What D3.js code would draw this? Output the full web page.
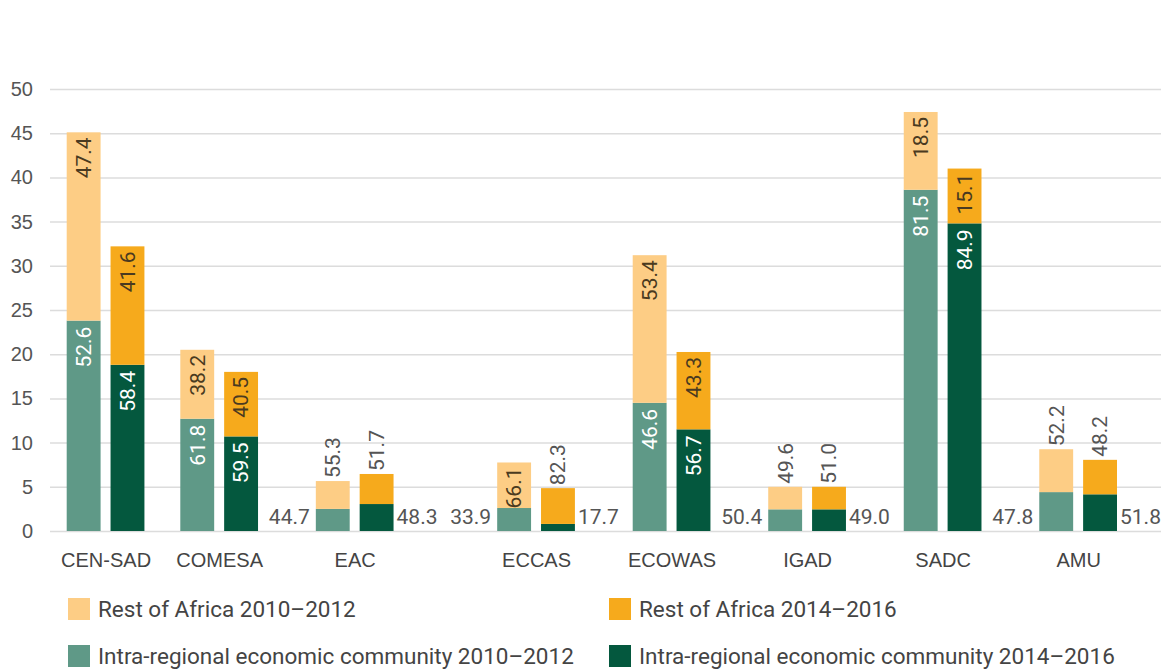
<!DOCTYPE html>
<html>
<head>
<meta charset="utf-8">
<script src="https://cdn.jsdelivr.net/npm/d3@7"></script>
<style>
  body { margin: 0; background: #fff; }
  svg { display: block; font-family: Roboto, "Liberation Sans", sans-serif; }
</style>
</head>
<body>
<script>
// regional communities and the two periods
const groups = ["CEN-SAD", "COMESA", "EAC", "ECCAS", "ECOWAS", "IGAD", "SADC", "AMU"];
const periods = ["2010–2012", "2014–2016"];

// bar heights (bottom = intra-regional, top = rest of Africa)
const intra2010 = [23.8, 12.7, 2.5, 2.6, 14.5, 2.45, 38.6, 4.4];
const rest2010  = [21.3, 7.8, 3.15, 5.15, 16.7, 2.55, 8.8, 4.85];
const intra2014 = [18.8, 10.7, 3.05, 0.8, 11.5, 2.45, 34.8, 4.15];
const rest2014  = [13.4, 7.3, 3.4, 4.05, 8.75, 2.55, 6.2, 3.9];

// share labels printed on the bars (%)
const intraShare2010 = ["52.6", "61.8", "44.7", "33.9", "46.6", "50.4", "81.5", "47.8"];
const restShare2010  = ["47.4", "38.2", "55.3", "66.1", "53.4", "49.6", "18.5", "52.2"];
const intraShare2014 = ["58.4", "59.5", "48.3", "17.7", "56.7", "49.0", "84.9", "51.8"];
const restShare2014  = ["41.6", "40.5", "51.7", "82.3", "43.3", "51.0", "15.1", "48.2"];

const yTicks = [0, 5, 10, 15, 20, 25, 30, 35, 40, 45, 50];

const legendLabels = [
  "Rest of Africa 2010–2012", "Rest of Africa 2014–2016",
  "Intra-regional economic community 2010–2012", "Intra-regional economic community 2014–2016"
];

const colors = {
  rest2010: "#fdcd85",
  rest2014: "#f6aa1c",
  intra2010: "#5f9987",
  intra2014: "#04583e"
};

const width = 1161, height = 669;
const svg = d3.select("body").append("svg").attr("width", width).attr("height", height);

const y = d3.scaleLinear().domain([0, 50]).range([531, 89]);

// gridlines + y labels
const yAxis = d3.axisLeft(y).tickValues(yTicks).tickSize(-(width - 50)).tickPadding(17);
const gy = svg.append("g").attr("transform", "translate(50,0)").call(yAxis);
gy.select(".domain").remove();
gy.selectAll("line").attr("stroke", "#dcdcdc").attr("stroke-width", 1.5);
gy.selectAll("text").attr("fill", "#555").style("font-size", "20px");

// per-bar records
const bars = [];
groups.forEach((g, i) => {
  bars.push({ group: g, period: periods[0], intra: intra2010[i], rest: rest2010[i],
    intraLbl: intraShare2010[i], restLbl: restShare2010[i], ci: colors.intra2010, cr: colors.rest2010, side: -1 });
  bars.push({ group: g, period: periods[1], intra: intra2014[i], rest: rest2014[i],
    intraLbl: intraShare2014[i], restLbl: restShare2014[i], ci: colors.intra2014, cr: colors.rest2014, side: 1 });
});

const minInside = 44; // px needed to fit a rotated label inside a segment
const segPx = v => y(0) - y(v);

// group layout: extra room where intra labels sit beside the bars
const groupW = 78, baseGap = 36, labelSpace = 46;
const offsets = [];
let pos = 0;
groups.forEach((g, i) => {
  if (i > 0) {
    let n = 0;
    if (segPx(intra2014[i - 1]) < minInside) n++;
    if (segPx(intra2010[i]) < minInside) n++;
    pos += n === 0 ? baseGap : n * labelSpace + 12;
  }
  offsets.push(pos);
  pos += groupW;
});
const x = d3.scaleLinear().domain([0, pos]).range([66.7, 1117]);
const inner = d3.scaleBand().domain(periods).range([0, x(groupW) - x(0)]).paddingInner(10 / 44);
const gi = g => groups.indexOf(g);
const barX = d => x(offsets[gi(d.group)]) + inner(d.period);
const bw = inner.bandwidth();

const bg = svg.append("g");
// intra segments
bg.selectAll("rect.intra").data(bars).join("rect")
  .attr("class", "intra")
  .attr("x", barX).attr("width", bw)
  .attr("y", d => y(d.intra)).attr("height", d => y(0) - y(d.intra))
  .attr("fill", d => d.ci);
// rest segments
bg.selectAll("rect.rest").data(bars).join("rect")
  .attr("class", "rest")
  .attr("x", barX).attr("width", bw)
  .attr("y", d => y(d.intra + d.rest)).attr("height", d => y(d.intra) - y(d.intra + d.rest))
  .attr("fill", d => d.cr);

// rest labels: inside near top, otherwise above the bar
bg.selectAll("text.rl").data(bars).join("text")
  .attr("class", "rl")
  .attr("transform", d => {
    const inside = segPx(d.rest) >= minInside;
    const ty = inside ? y(d.intra + d.rest) + 5 : y(d.intra + d.rest) - 3;
    return `translate(${barX(d) + bw / 2},${ty}) rotate(-90)`;
  })
  .attr("text-anchor", d => segPx(d.rest) >= minInside ? "end" : "start")
  .attr("dy", "0.35em")
  .attr("fill", d => segPx(d.rest) >= minInside ? "#4a3a20" : "#555")
  .style("font-size", "21px")
  .text(d => d.restLbl);

// intra labels: inside near top, otherwise beside the bar
bg.selectAll("text.il").data(bars).join("text")
  .attr("class", "il")
  .each(function (d) {
    const t = d3.select(this);
    if (segPx(d.intra) >= minInside) {
      t.attr("transform", `translate(${barX(d) + bw / 2},${y(d.intra) + 6}) rotate(-90)`)
        .attr("text-anchor", "end").attr("dy", "0.35em").attr("fill", "#fff");
    } else {
      const tx = d.side < 0 ? barX(d) - 6 : barX(d) + bw + 3;
      t.attr("x", tx).attr("y", y(0) - 7)
        .attr("text-anchor", d.side < 0 ? "end" : "start").attr("fill", "#555");
    }
  })
  .style("font-size", "21px")
  .text(d => d.intraLbl);

// category axis
const xc = d3.scaleOrdinal().domain(groups).range(groups.map((g, i) => x(offsets[i] + groupW / 2)));
const gx = svg.append("g").attr("transform", `translate(0,${y(0)})`)
  .call(d3.axisBottom(xc).tickSize(0).tickPadding(22));
gx.select(".domain").remove();
gx.selectAll("text").attr("fill", "#444").style("font-size", "20px");

// legend
const legendColors = [colors.rest2010, colors.rest2014, colors.intra2010, colors.intra2014];
const lg = svg.append("g");
const lItems = lg.selectAll("g").data(legendLabels).join("g")
  .attr("transform", (d, i) => `translate(${i % 2 ? 609 : 68},${i < 2 ? 598 : 645})`);
lItems.append("rect").attr("width", 22).attr("height", 22).attr("fill", (d, i) => legendColors[i]);
lItems.append("text").attr("x", 30).attr("y", 19).attr("fill", "#444")
  .style("font-size", "22.5px").text(d => d);
</script>
</body>
</html>
